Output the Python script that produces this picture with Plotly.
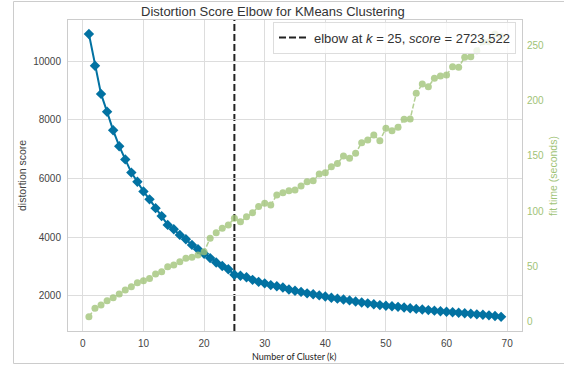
import plotly.graph_objects as go

k_values = list(range(1, 70))
distortion = [10920, 9840, 8880, 8270, 7640, 7100, 6650, 6200, 5890, 5560,
              5290, 4990, 4720, 4420, 4270, 4080, 3930, 3740, 3590, 3440,
              3290, 3140, 3020, 2910, 2723.522, 2690, 2640, 2550, 2480, 2430,
              2370, 2330, 2290, 2220, 2180, 2140, 2090, 2060, 2020, 1980,
              1940, 1910, 1880, 1850, 1810, 1780, 1750, 1720, 1690, 1670,
              1650, 1630, 1610, 1580, 1560, 1540, 1520, 1500, 1480, 1465,
              1445, 1430, 1410, 1395, 1375, 1360, 1340, 1320, 1290]
fit_time = [4.4, 12, 15, 18.9, 21.6, 25, 28.6, 31.6, 35.2, 37,
            39, 43, 45, 49.6, 51.2, 54.2, 57.2, 58.1, 60.2, 63.2,
            75.3, 80.4, 84.3, 87.3, 93.4, 90.3, 94.8, 98.5, 104, 107,
            105.4, 114.5, 116.5, 118.4, 119, 122.6, 126.5, 127.4, 133.5, 134.6,
            140, 143, 149.7, 147.6, 152.2, 161.8, 164.2, 168.7, 163.6, 174.8,
            172.6, 175.7, 182.9, 183.2, 206.4, 214.8, 212.4, 220, 222, 223,
            230.5, 230, 239, 239.5, 245, 253, 253, 260, 257.6]
elbow_k = 25
elbow_score = 2723.522

x_ticks = [0, 10, 20, 30, 40, 50, 60, 70]
y_ticks = [2000, 4000, 6000, 8000, 10000]
y2_ticks = [0, 50, 100, 150, 200, 250]

BLUE = "#0272a2"
GREEN = "#9fc377"

# plot area in window pixels: left 68, right 522, top 20, bottom 331
PL, PW, PB, PH = 68, 454, 331, 311


def px(x):
    return (x - PL) / PW


def py(y):
    return (PB - y) / PH


fig = go.Figure()
fig.add_trace(go.Scatter(
    x=k_values, y=distortion, mode="lines+markers",
    line=dict(color=BLUE, width=2),
    marker=dict(symbol="diamond", size=8, color=BLUE),
    showlegend=False, yaxis="y"))
fig.add_trace(go.Scatter(
    x=k_values, y=fit_time, mode="lines+markers",
    line=dict(color=GREEN, width=1.5, dash="5px,2px"),
    marker=dict(symbol="circle", size=7, color=GREEN),
    opacity=0.78, showlegend=False, yaxis="y2"))

fig.add_shape(type="line", x0=elbow_k, x1=elbow_k, xref="x", y0=0, y1=1, yref="paper",
              line=dict(color="#222222", width=2, dash="7px,3px"), layer="between",
              showlegend=True,
              name=f"elbow at <i>k</i> = {elbow_k}, <i>score</i> = {elbow_score}")

# figure frame
fig.add_shape(type="rect", xref="paper", yref="paper",
              x0=px(13.5), x1=px(600), y0=py(363.5), y1=py(1.5),
              line=dict(color="#cccccc", width=1), fillcolor="rgba(0,0,0,0)", layer="below")

grid = "#dddddd"
fig.update_layout(
    width=564, height=371,
    margin=dict(l=68, r=42, t=20, b=40),
    paper_bgcolor="white", plot_bgcolor="white",
    font=dict(family="Liberation Sans, Arial, sans-serif", size=10, color="#444444"),
    xaxis=dict(range=[-2.45, 72.45], tickvals=x_ticks, showgrid=True, gridcolor=grid,
               gridwidth=1, zeroline=False, showline=True, linecolor="#cccccc",
               mirror=True, ticks="", ticklabelstandoff=3,
               tickfont=dict(size=10, color="#444444")),
    yaxis=dict(range=[808, 11396], tickvals=y_ticks, tickformat="d", showgrid=True,
               gridcolor=grid, gridwidth=1, zeroline=False, showline=True,
               linecolor="#cccccc", mirror=True, ticks="", ticklabelstandoff=4,
               tickfont=dict(size=10, color="#444444")),
    yaxis2=dict(range=[-8.5, 272.7], tickvals=y2_ticks, overlaying="y", side="right",
                showgrid=False, zeroline=False, showline=False, ticks="",
                ticklabelstandoff=4, tickfont=dict(size=10, color=GREEN)),
    legend=dict(x=px(516), y=py(37.5), xanchor="right", yanchor="middle",
                bgcolor="rgba(255,255,255,0.8)", bordercolor="#dddddd", borderwidth=1,
                font=dict(size=13, color="#333333"), tracegroupgap=0),
)

fig.add_annotation(text="Distortion Score Elbow for KMeans Clustering",
                   xref="paper", yref="paper", x=px(272.5), y=py(11),
                   xanchor="center", yanchor="middle",
                   showarrow=False, font=dict(size=13, color="#333333"))
fig.add_annotation(text="Number of Cluster (k)", xref="paper", yref="paper",
                   x=px(294), y=py(356), xanchor="center", yanchor="middle",
                   showarrow=False,
                   font=dict(family="Lato, sans-serif", size=9, color="#222222"))
fig.add_annotation(text="distortion score", xref="paper", yref="paper",
                   x=px(22), y=py(176), xanchor="center", yanchor="middle",
                   textangle=-90, showarrow=False,
                   font=dict(size=10.5, color="#444444"))
fig.add_annotation(text="fit time (seconds)", xref="paper", yref="paper",
                   x=px(553), y=py(176), xanchor="center", yanchor="middle",
                   textangle=-90, showarrow=False,
                   font=dict(size=10.5, color=GREEN))

fig.write_html("out.html",
               config={"displayModeBar": False},
               post_script="document.body.style.margin='0';document.body.style.overflow='hidden';")
